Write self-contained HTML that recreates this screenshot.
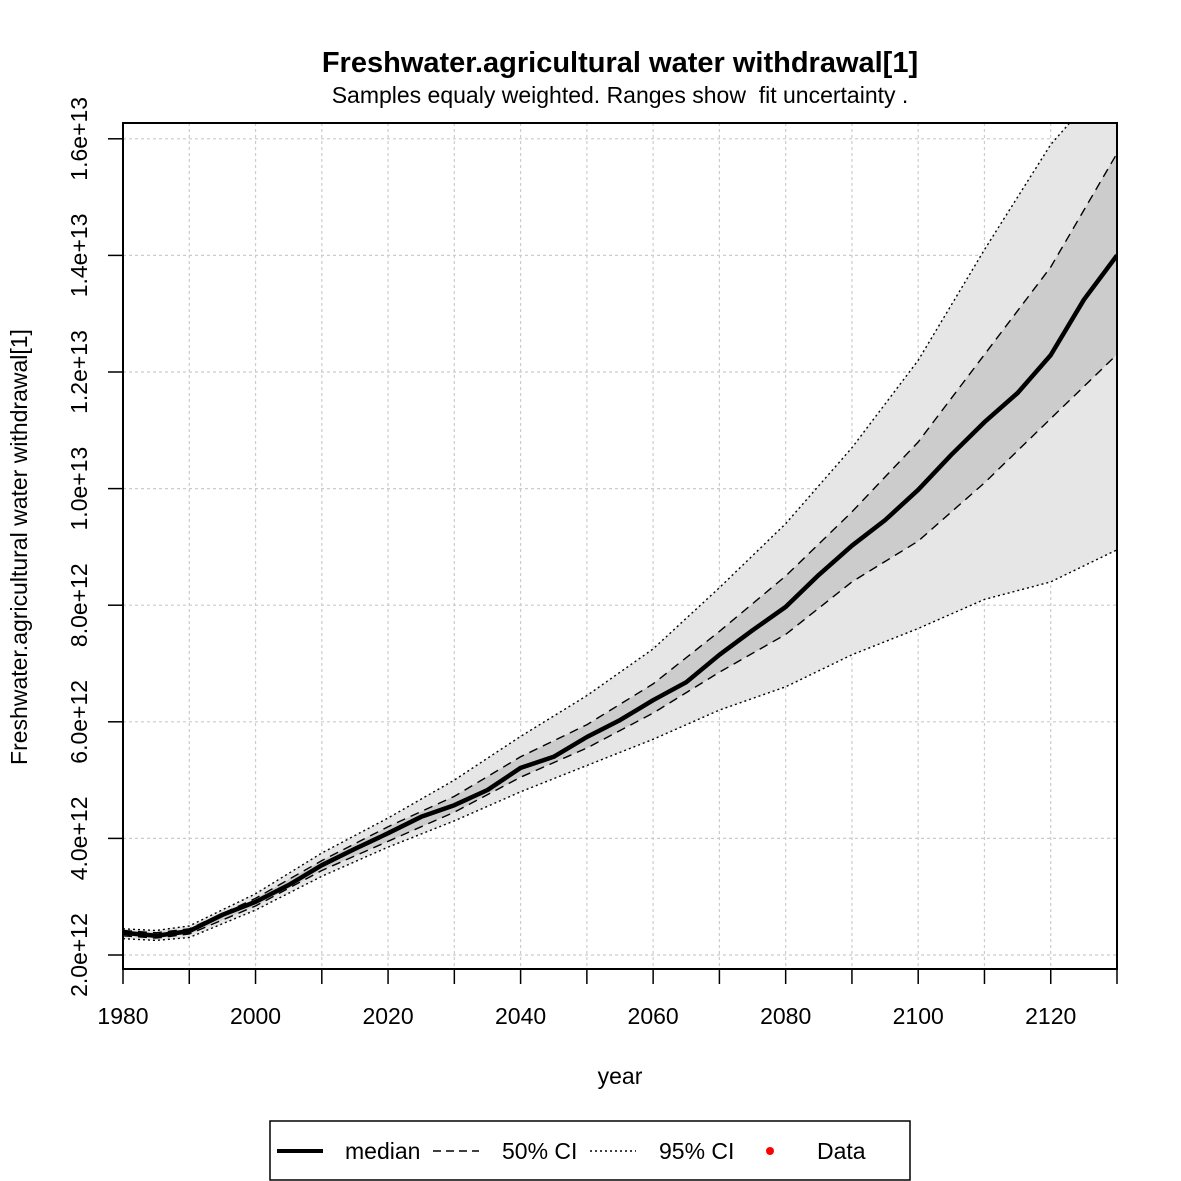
<!DOCTYPE html>
<html><head><meta charset="utf-8"><style>
body{margin:0;background:#fff}
svg{display:block;font-family:"Liberation Sans",Arial,sans-serif}
</style></head><body>
<svg id="chart" width="1181" height="1181" viewBox="0 0 1181 1181" xmlns="http://www.w3.org/2000/svg">
<rect width="1181" height="1181" fill="#fff"/>
<text x="620" y="72" text-anchor="middle" font-size="29" font-weight="bold">Freshwater.agricultural water withdrawal[1]</text>
<text x="620" y="103" text-anchor="middle" font-size="23" style="white-space:pre">Samples equaly weighted. Ranges show  fit uncertainty .</text>
<text x="620" y="1084" text-anchor="middle" font-size="23">year</text>
<text transform="translate(27,547) rotate(-90)" text-anchor="middle" font-size="23">Freshwater.agricultural water withdrawal[1]</text>
<defs><clipPath id="pc"><rect x="123" y="123" width="994" height="846"/></clipPath></defs>
<g id="grid"></g>
<g id="bands" clip-path="url(#pc)"></g>
<g id="lines" clip-path="url(#pc)"></g>
<rect x="123" y="123" width="994" height="846" fill="none" stroke="#000" stroke-width="2"/>
<g id="axes"></g>
<g>
<rect x="270" y="1121" width="640" height="59" fill="#fff" stroke="#000" stroke-width="1.5"/>
<line x1="277" y1="1151" x2="323" y2="1151" stroke="#000" stroke-width="4"/>
<text x="345" y="1159" font-size="23">median</text>
<line x1="433" y1="1151" x2="479" y2="1151" stroke="#000" stroke-width="1.5" stroke-dasharray="8,5"/>
<text x="502" y="1159" font-size="23">50% CI</text>
<line x1="590" y1="1151" x2="636" y2="1151" stroke="#000" stroke-width="1.5" stroke-dasharray="2,3"/>
<text x="659" y="1159" font-size="23">95% CI</text>
<circle cx="770" cy="1151" r="4" fill="#f00"/>
<text x="817" y="1159" font-size="23">Data</text>
</g>
</svg>
<script>
const medYears=[1980,1985,1990,1995,2000,2005,2010,2015,2020,2025,2030,2035,2040,2045,2050,2055,2060,2065,2070,2075,2080,2085,2090,2095,2100,2105,2110,2115,2120,2125,2130];
const median=[2.38,2.33,2.41,2.69,2.91,3.2,3.54,3.82,4.09,4.37,4.57,4.83,5.21,5.4,5.74,6.03,6.37,6.68,7.15,7.57,7.97,8.52,9.02,9.46,9.98,10.58,11.14,11.64,12.29,13.24,14.0];
const ciYears=[1980,1985,1990,2000,2010,2020,2030,2040,2050,2060,2070,2080,2090,2100,2110,2120,2130];
const ci50hi=[2.42,2.38,2.45,2.97,3.62,4.2,4.72,5.4,5.95,6.65,7.55,8.5,9.6,10.8,12.3,13.8,15.75];
const ci50lo=[2.33,2.29,2.36,2.84,3.45,3.95,4.45,5.05,5.55,6.15,6.85,7.5,8.4,9.1,10.1,11.2,12.3];
const ci95hi=[2.45,2.42,2.5,3.05,3.75,4.35,5.0,5.75,6.45,7.25,8.3,9.4,10.7,12.2,14.1,15.9,17.2];
const ci95lo=[2.28,2.25,2.3,2.77,3.35,3.85,4.3,4.8,5.25,5.7,6.2,6.6,7.15,7.6,8.1,8.4,8.95];
const xTicks=[1980,1990,2000,2010,2020,2030,2040,2050,2060,2070,2080,2090,2100,2110,2120,2130];
const xLabels=[1980,2000,2020,2040,2060,2080,2100,2120];
const yTicks=[2,4,6,8,10,12,14,16];
const yLabels=["2.0e+12","4.0e+12","6.0e+12","8.0e+12","1.0e+13","1.2e+13","1.4e+13","1.6e+13"];

const NS="http://www.w3.org/2000/svg";
const X=y=>123+(y-1980)*994/150;
const Y=v=>955-(v-2)*58.3;
function mk(tag,attrs,parent){const e=document.createElementNS(NS,tag);for(const k in attrs)e.setAttribute(k,attrs[k]);document.getElementById(parent).appendChild(e);return e;}
function pts(xs,vs){return xs.map((x,i)=>X(x).toFixed(1)+","+Y(vs[i]).toFixed(1));}

xTicks.forEach(t=>{
  const g=mk('line',{x1:X(t),x2:X(t),y1:123,y2:969,stroke:'#ccc','stroke-width':1.2,'stroke-dasharray':'3,3'},'grid');
  
  
  const tk=mk('line',{x1:X(t),x2:X(t),y1:969,y2:984,stroke:'#000','stroke-width':1.5},'axes');
  
  
});
xLabels.forEach(t=>{
  const l=mk('text',{x:X(t),y:1024,'text-anchor':'middle','font-size':23},'axes');
  l.textContent=t;
  
  
});
yTicks.forEach((t,i)=>{
  const g=mk('line',{x1:123,x2:1117,y1:Y(t),y2:Y(t),stroke:'#ccc','stroke-width':1.2,'stroke-dasharray':'3,3'},'grid');
  
  
  const tk=mk('line',{x1:108,x2:123,y1:Y(t),y2:Y(t),stroke:'#000','stroke-width':1.5},'axes');
  
  
  const l=mk('text',{transform:`translate(87,${Y(t)}) rotate(-90)`,'text-anchor':'middle','font-size':23},'axes');
  l.textContent=yLabels[i];
  
  
});
const b95=mk('polygon',{points:pts(ciYears,ci95hi).concat(pts(ciYears,ci95lo).reverse()).join(' '),fill:'#e6e6e6'},'bands');


const b50=mk('polygon',{points:pts(ciYears,ci50hi).concat(pts(ciYears,ci50lo).reverse()).join(' '),fill:'#cccccc'},'bands');


[[ci95hi,'2,3','ci95-upper'],[ci95lo,'2,3','ci95-lower'],[ci50hi,'9,6','ci50-upper'],[ci50lo,'9,6','ci50-lower']].forEach(([d,dash,n])=>{
  const p=mk('polyline',{points:pts(ciYears,d).join(' '),fill:'none',stroke:'#000','stroke-width':1.4,'stroke-dasharray':dash},'lines');
  
  
});
const m=mk('polyline',{points:pts(medYears,median).join(' '),fill:'none',stroke:'#000','stroke-width':4.5,'stroke-linejoin':'round'},'lines');


</script>
</body></html>
